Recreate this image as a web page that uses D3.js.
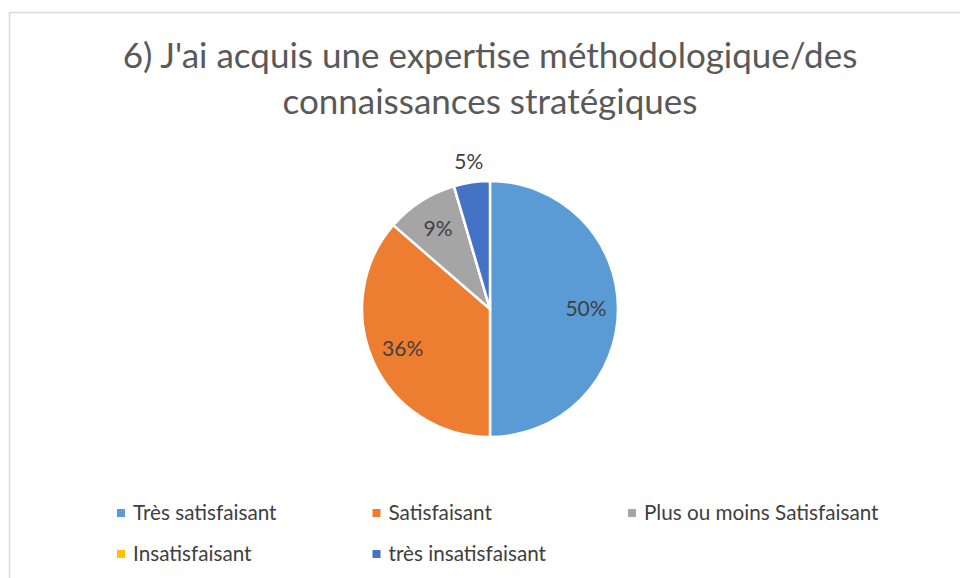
<!DOCTYPE html>
<html>
<head>
<meta charset="utf-8">
<title>Pie chart</title>
<script src="https://cdn.jsdelivr.net/npm/d3@7/dist/d3.min.js"></script>
<style>
body { margin: 0; background: #fff; }
svg { display: block; font-family: Lato, "Open Sans", sans-serif; }
</style>
</head>
<body>
<script>
// data (counts out of 22 answers)
var categories = ["Très satisfaisant", "Satisfaisant", "Plus ou moins Satisfaisant", "Insatisfaisant", "très insatisfaisant"];
var counts = [11, 8, 2, 0, 1];
var colors = ["#5B9BD5", "#ED7D31", "#A5A5A5", "#FFC000", "#4472C4"];
var titleLines = ["6) J'ai acquis une expertise méthodologique/des", "connaissances stratégiques"];

var width = 960, height = 578;
var cx = 490, cy = 309, radius = 128;

var svg = d3.select("body").append("svg")
    .attr("width", width)
    .attr("height", height);

// chart frame (right/bottom edges are cut off in the shot)
svg.append("rect")
    .attr("x", 9.5).attr("y", 12.5)
    .attr("width", width + 20).attr("height", height + 20)
    .attr("fill", "#fff")
    .attr("stroke", "#D9D9D9")
    .attr("stroke-width", 1.5);

svg.selectAll("text.title")
    .data(titleLines).enter()
    .append("text")
    .attr("class", "title")
    .attr("x", cx)
    .attr("y", function(d, i) { return 68 + i * 46; })
    .attr("text-anchor", "middle")
    .attr("font-size", "35px")
    .attr("fill", "#595959")
    .text(function(d) { return d; });

var total = d3.sum(counts);
var pie = d3.pie().sort(null).value(function(d) { return d; });
var arcs = pie(counts);

var arc = d3.arc().innerRadius(0).outerRadius(radius);
var inner = d3.arc().innerRadius(radius * 0.75).outerRadius(radius * 0.75);
var outer = d3.arc().innerRadius(radius * 1.16).outerRadius(radius * 1.16);

var g = svg.append("g")
    .attr("transform", "translate(" + cx + "," + cy + ")");

g.selectAll("path")
    .data(arcs).enter()
    .append("path")
    .attr("d", arc)
    .attr("fill", function(d, i) { return colors[i]; })
    .attr("stroke", "#fff")
    .attr("stroke-width", 2.5)
    .attr("stroke-linejoin", "round");

g.selectAll("text.lbl")
    .data(arcs.filter(function(d) { return d.value > 0; })).enter()
    .append("text")
    .attr("class", "lbl")
    .attr("transform", function(d) {
        var share = d.value / total;
        var p = share < 0.07 ? outer.centroid(d) : inner.centroid(d);
        return "translate(" + p + ")";
    })
    .attr("dy", "0.35em")
    .attr("text-anchor", "middle")
    .attr("font-size", "21px")
    .attr("fill", "#404040")
    .text(function(d) { return d3.format(".0%")(d.value / total); });

// legend, 3 per row
var legend = svg.selectAll("g.leg")
    .data(categories).enter()
    .append("g")
    .attr("class", "leg")
    .attr("transform", function(d, i) {
        return "translate(" + (117 + (i % 3) * 255.5) + "," + (513 + Math.floor(i / 3) * 41) + ")";
    });

legend.append("rect")
    .attr("x", 0).attr("y", -4)
    .attr("width", 8).attr("height", 8)
    .attr("fill", function(d, i) { return colors[i]; });

legend.append("text")
    .attr("x", 16)
    .attr("dy", "0.35em")
    .attr("font-size", "20.7px")
    .attr("fill", "#404040")
    .text(function(d) { return d; });
</script>
</body>
</html>
